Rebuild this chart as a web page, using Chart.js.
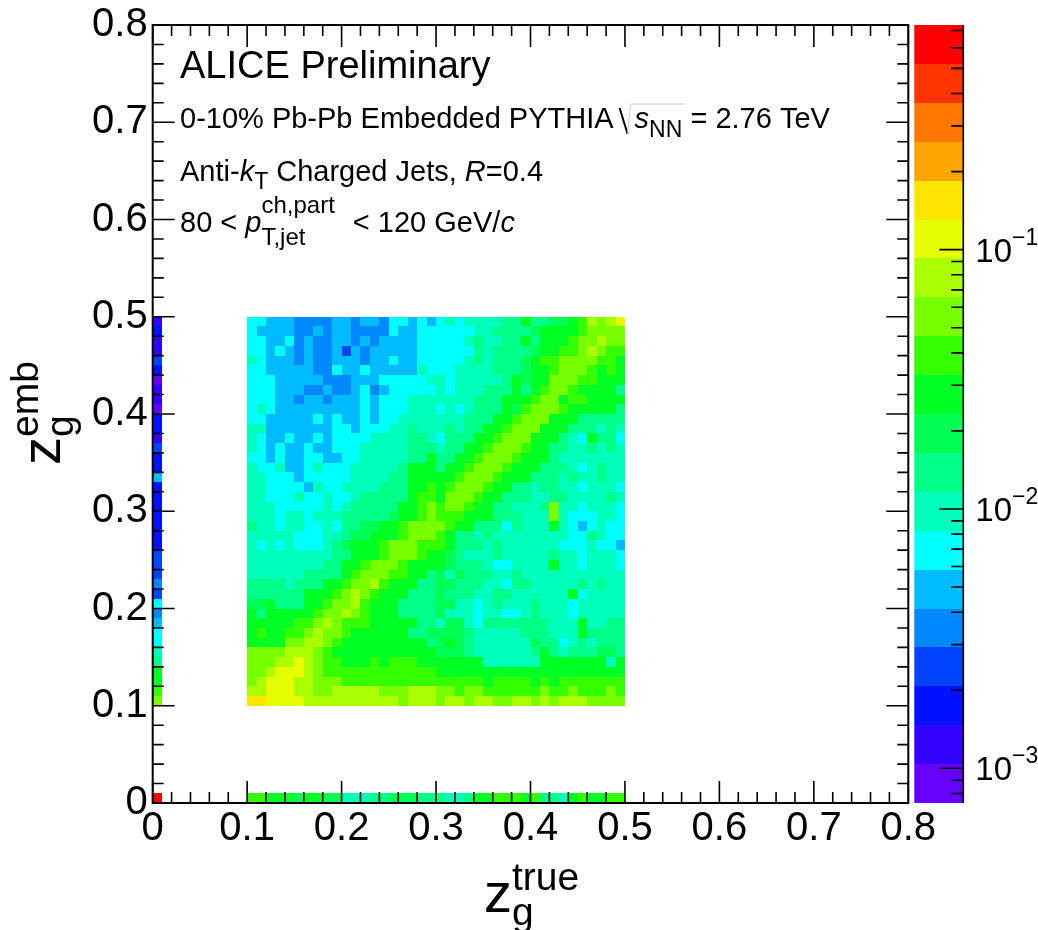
<!DOCTYPE html>
<html>
<head>
<meta charset="utf-8">
<title>z_g response</title>
<script src="https://cdn.jsdelivr.net/npm/chart.js@4.4.1/dist/chart.umd.min.js"></script>
<style>
  body { margin: 0; background: #fff; }
  canvas { display: block; }
</style>
</head>
<body>
<canvas id="responseChart" width="1038" height="930"></canvas>
<script>
// bin contents as colour levels, a = lowest .. t = highest
// rows: z_g^emb 0.49-0.50 first, down to 0.10-0.11; columns: z_g^true 0.10 .. 0.49
var responseRows = [
  'ggfffeeeeffeffeggfgfghghhhhiikiijjklnmno',
  'gffffeefeffeeeegffgggggghhiiiijkkkklmmmm',
  'ggffgefeeffefeffffggggghihhiikikkklmmnmm',
  'ggfgfefeefdfefffffggggggihiiiijkkllmnmll',
  'hgfffefeefffeffgffggggghihiiijkllmmmmllk',
  'ggfffffeegffgfffffhggghhhhiiijkklmmmlklk',
  'gggfffffeeefffggggghhghhhhhikjkkmmmllkkk',
  'gggfffeefeefgefggggghghhhiiikiklmmlkkkki',
  'gggffeffefffgfggghhhhhhhiiikkklmmkllkkkk',
  'ghgfffffffffgfggghhhghghiiikjlmmmlkkkkki',
  'ggfffffgfgffgfgghhhhhhhiiikklmmmkkkiiiii',
  'hhfffffffggfggghhihhhihiikklmmmkkkiiihih',
  'hgffgffgfgggghhhhiihgiiikklmmmkkkihgkiig',
  'hgfgffgffggghhhhhiiihiikklmmmlkkiihhihih',
  'ggfgffggffgghhhhhiikiikklmmmlkkkihhhhhhh',
  'hgghffghggghhhhhikkkikklmmmlkkkiiihghihh',
  'hhgggfggggghhhhiikkkkklmmmlkkkiiihihhihh',
  'hhggggfhgghhhhiiikklklmmmlkkiihiihhghhhg',
  'hhggghgghgghiiiiikllkmmmlkkiiihhiihhhhih',
  'hhhggggghghiiiiikklmlmmlkkiihhhimhhghhhg',
  'hhhghhghhhiiiiijkklmlllkkkiiihhhmhggghhg',
  'ihhghhgghgiijjkklmmmmlkkiiigihhhkhgfghgg',
  'hhhhhggghhijjkkklmmmlkiihihhhhhhhhggihgg',
  'hghghggghijkkklmmmlllkiiihihhhhhhggghggf',
  'hhhhhhhhhiikkklmmmlkkjihhhihhhhhihhghhhg',
  'hhhhhhhhiikklmmmlkkkkjiiihgghhhhkhhghhhg',
  'hhhhhhiiiiklmmmllkkijhjiiihhihhhhhhhhhhh',
  'iiiihiiikklmmnlkkkiijjiiihhgiihhhhhihihh',
  'iiiiiikkklmnmlkkkiiijiiihhiihhhhhhkghhhh',
  'jjkiiikklmmnlkkkiiiijjhhghihhhihhhghhhhh',
  'kikkkkklmmnmlkkkiiiijhhhghhgghihhhghhhhh',
  'kkkkkllmnmlllkkkkkiihjjhgiiiiiiihhhkhhii',
  'klkkllmnmmlkkkkkkiijjjjihhhhhiiihhhkiiii',
  'kkkkmmnnmlkkkkkkkkkijkjihhhhhhjiighihiii',
  'mmmmnnnmlkkkkkkkkkkkjjjihhhhhhikihiiijji',
  'mmmnnonmllkkklklllkkkkkkkhhhhhhkkkkkkkhk',
  'mmnooonmllllllllllllkkkkkkkkkkkkkkkkkkkk',
  'mnooonnmmmlllllllllllllllkllllklklllllll',
  'nnooonnmmnnnnnmmmnnnmmlmmllllllmllmlllml',
  'ppoooonnnnnnnnnnmnnnmnnmnnmmnnmnmnnnmmmm'
];

// z_g^true = 0 bin, z_g^emb 0.49 down to 0.10
var trueZeroColumn = 'bcbbdcabbaccbdccfcccccccdddedgefgghikklm';
// z_g^emb = 0 bin, z_g^true 0.10 .. 0.49
var embZeroRow = 'llkkkjkkjjhhhiijjjiiihhikklllkliihklkkll';
var bothZeroLevel = 't';

var binWidth = 0.01;
var firstBin = 0.1;
var axisTicks = [0, 0.1, 0.2, 0.3, 0.4, 0.5, 0.6, 0.7, 0.8];
var zRange = [7.35e-4, 0.735];
var zDecades = [1e-3, 1e-2, 1e-1];
var zLevels = 20;

var palette = [
  '#6600ff', '#3300ff', '#0011ff', '#0044ff', '#0088ff',
  '#00bbff', '#00ffff', '#00ffbb', '#00ff88', '#00ff55',
  '#00ff22', '#33ff00', '#77ff00', '#aaff00', '#e6ff00',
  '#ffe600', '#ffa500', '#ff7700', '#ff3300', '#ff0000'
];

var levelKeys = 'abcdefghijklmnopqrst';
var logMin = Math.log10(zRange[0]);
var logStep = (Math.log10(zRange[1]) - logMin) / zLevels;

function levelValue(key) {
  return Math.pow(10, logMin + (levelKeys.indexOf(key) + 0.5) * logStep);
}

function levelColour(v) {
  var k = Math.floor((Math.log10(v) - logMin) / logStep);
  return palette[Math.max(0, Math.min(zLevels - 1, k))];
}

var cells = [];
responseRows.forEach(function(row, i) {
  var yLow = firstBin + (responseRows.length - 1 - i) * binWidth;
  row.split('').forEach(function(key, j) {
    cells.push({x: firstBin + (j + 0.5) * binWidth, y: yLow + binWidth / 2, v: levelValue(key)});
  });
});
trueZeroColumn.split('').forEach(function(key, i) {
  cells.push({x: binWidth / 2, y: firstBin + (trueZeroColumn.length - 0.5 - i) * binWidth, v: levelValue(key)});
});
embZeroRow.split('').forEach(function(key, j) {
  cells.push({x: firstBin + (j + 0.5) * binWidth, y: binWidth / 2, v: levelValue(key)});
});
cells.push({x: binWidth / 2, y: binWidth / 2, v: levelValue(bothZeroLevel)});

var fontFamily = '"Liberation Sans", Arial, Helvetica, sans-serif';
Chart.defaults.font.family = fontFamily;

function setFont(ctx, size, italic) {
  ctx.font = (italic ? 'italic ' : '') + size + 'px ' + fontFamily;
}

// pieces: [text, size, italic, dy, hold, gap]; a held piece keeps the pen so the next one stacks under it
function drawPieces(ctx, x, y, pieces) {
  var pen = x, held = 0;
  pieces.forEach(function(p) {
    setFont(ctx, p[1], p[2]);
    ctx.fillText(p[0], pen, y + (p[3] || 0));
    var w = ctx.measureText(p[0]).width;
    if (p[4]) { held = w; return; }
    pen += Math.max(w, held) + (p[5] || 0);
    held = 0;
  });
  return pen;
}

var colzPlugin = {
  id: 'colz',
  afterDatasetsDraw: function(chart) {
    var ctx = chart.ctx, area = chart.chartArea;
    var xs = chart.scales.x, ys = chart.scales.y, zs = chart.scales.z;
    ctx.save();

    // bins
    chart.data.datasets[0].data.forEach(function(c) {
      var x0 = Math.round(xs.getPixelForValue(c.x - binWidth / 2));
      var x1 = Math.round(xs.getPixelForValue(c.x + binWidth / 2));
      var y0 = Math.round(ys.getPixelForValue(c.y + binWidth / 2));
      var y1 = Math.round(ys.getPixelForValue(c.y - binWidth / 2));
      ctx.fillStyle = levelColour(c.v);
      ctx.fillRect(x0, y0, x1 - x0, y1 - y0);
    });

    // frame, ticks pointing inwards on all four sides
    ctx.strokeStyle = '#000';
    ctx.lineWidth = 2;
    ctx.strokeRect(area.left, area.top, area.right - area.left, area.bottom - area.top);
    ctx.lineWidth = 1.6;
    ctx.beginPath();
    for (var i = 0; i <= 40; i++) {
      var len = i % 5 === 0 ? 22 : 11;
      var px = xs.getPixelForValue(i * 0.02);
      var py = ys.getPixelForValue(i * 0.02);
      ctx.moveTo(px, area.bottom); ctx.lineTo(px, area.bottom - len);
      ctx.moveTo(px, area.top); ctx.lineTo(px, area.top + len);
      ctx.moveTo(area.left, py); ctx.lineTo(area.left + len, py);
      ctx.moveTo(area.right, py); ctx.lineTo(area.right - len, py);
    }
    ctx.stroke();

    // palette bar
    var barLeft = area.right + 6, barRight = area.right + 55;
    for (var k = 0; k < zLevels; k++) {
      var yHi = Math.round(zs.getPixelForValue(Math.pow(10, logMin + (k + 1) * logStep)));
      var yLo = Math.round(zs.getPixelForValue(Math.pow(10, logMin + k * logStep)));
      ctx.fillStyle = palette[k];
      ctx.fillRect(barLeft, yHi, barRight - barLeft, yLo - yHi);
    }
    ctx.beginPath();
    ctx.moveTo(barRight, area.top);
    ctx.lineTo(barRight, area.bottom);
    for (var e = -4; e <= 0; e++) {
      for (var m = 1; m <= 9; m++) {
        var v = m * Math.pow(10, e);
        if (v < zRange[0] || v > zRange[1]) continue;
        var ty = zs.getPixelForValue(v);
        ctx.moveTo(barRight, ty);
        ctx.lineTo(barRight - (m === 1 ? 24 : 12), ty);
      }
    }
    ctx.stroke();

    ctx.fillStyle = '#000';
    ctx.textAlign = 'left';
    ctx.textBaseline = 'alphabetic';
    zDecades.forEach(function(d) {
      var ty = zs.getPixelForValue(d);
      drawPieces(ctx, barRight + 12, ty + 12, [
        ['10', 33], ['\u2212' + Math.round(-Math.log10(d)), 23, false, -17]
      ]);
    });

    // axis titles
    drawPieces(ctx, 484, 912, [['z', 56], ['true', 39, false, -22, true], ['g', 39, false, 13]]);
    ctx.save();
    ctx.translate(60, 465);
    ctx.rotate(-Math.PI / 2);
    drawPieces(ctx, 0, 0, [['z', 56], ['emb', 39, false, -22, true], ['g', 39, false, 13]]);
    ctx.restore();

    // labels
    setFont(ctx, 38);
    ctx.fillText('ALICE Preliminary', 180, 78);

    var pen = drawPieces(ctx, 180, 128, [['0-10% Pb-Pb Embedded PYTHIA', 29]]);
    var sx = pen + 6;
    var after = drawPieces(ctx, sx + 15, 128, [['s', 29, true], ['NN', 23, false, 9]]);
    ctx.lineWidth = 2;
    ctx.beginPath();
    ctx.moveTo(sx, 108);
    ctx.lineTo(sx + 8, 134);
    ctx.stroke();
    ctx.lineWidth = 1;
    ctx.strokeStyle = '#cccccc';
    ctx.beginPath();
    ctx.moveTo(sx + 8, 134);
    ctx.lineTo(sx + 11, 104);
    ctx.lineTo(after + 2, 104);
    ctx.stroke();
    drawPieces(ctx, after, 128, [[' = 2.76 TeV', 29]]);

    drawPieces(ctx, 180, 181, [
      ['Anti-', 29], ['k', 29, true], ['T', 23, false, 8],
      [' Charged Jets, ', 29], ['R', 29, true], ['=0.4', 29]
    ]);
    drawPieces(ctx, 180, 232, [
      ['80 < ', 29], ['p', 29, true],
      ['ch,part', 24, false, -19, true], ['T,jet', 24, false, 13, false, 10],
      [' < 120 GeV/', 29], ['c', 29, true]
    ]);
    ctx.restore();
  }
};

function axisLabel(v) {
  return v === 0 ? '0' : v.toFixed(1);
}

function fixedTicks(scale) {
  scale.ticks = axisTicks.map(function(v) { return {value: v}; });
}

new Chart(document.getElementById('responseChart'), {
  type: 'scatter',
  data: {
    datasets: [{
      data: cells,
      pointRadius: 0,
      pointHoverRadius: 0,
      pointHitRadius: 0
    }]
  },
  options: {
    responsive: false,
    animation: false,
    devicePixelRatio: 1,
    events: [],
    layout: { padding: { left: 52.7, right: 129.7, top: 25, bottom: 47 } },
    plugins: { legend: { display: false }, tooltip: { enabled: false } },
    scales: {
      x: {
        type: 'linear', min: 0, max: 0.8,
        afterBuildTicks: fixedTicks,
        afterFit: function(s) { s.height = 80; },
        grid: { display: false, drawTicks: false },
        border: { display: false },
        ticks: { padding: 6, maxRotation: 0, autoSkip: false, color: '#000',
                 font: { size: 40, lineHeight: 1 }, callback: axisLabel }
      },
      y: {
        type: 'linear', min: 0, max: 0.8,
        afterBuildTicks: fixedTicks,
        afterFit: function(s) { s.width = 100; },
        grid: { display: false, drawTicks: false },
        border: { display: false },
        ticks: { padding: 5, autoSkip: false, color: '#000',
                 font: { size: 40, lineHeight: 1 }, callback: axisLabel }
      },
      z: {
        type: 'logarithmic', position: 'right', display: false,
        min: zRange[0], max: zRange[1]
      }
    }
  },
  plugins: [colzPlugin]
});
</script>
</body>
</html>
